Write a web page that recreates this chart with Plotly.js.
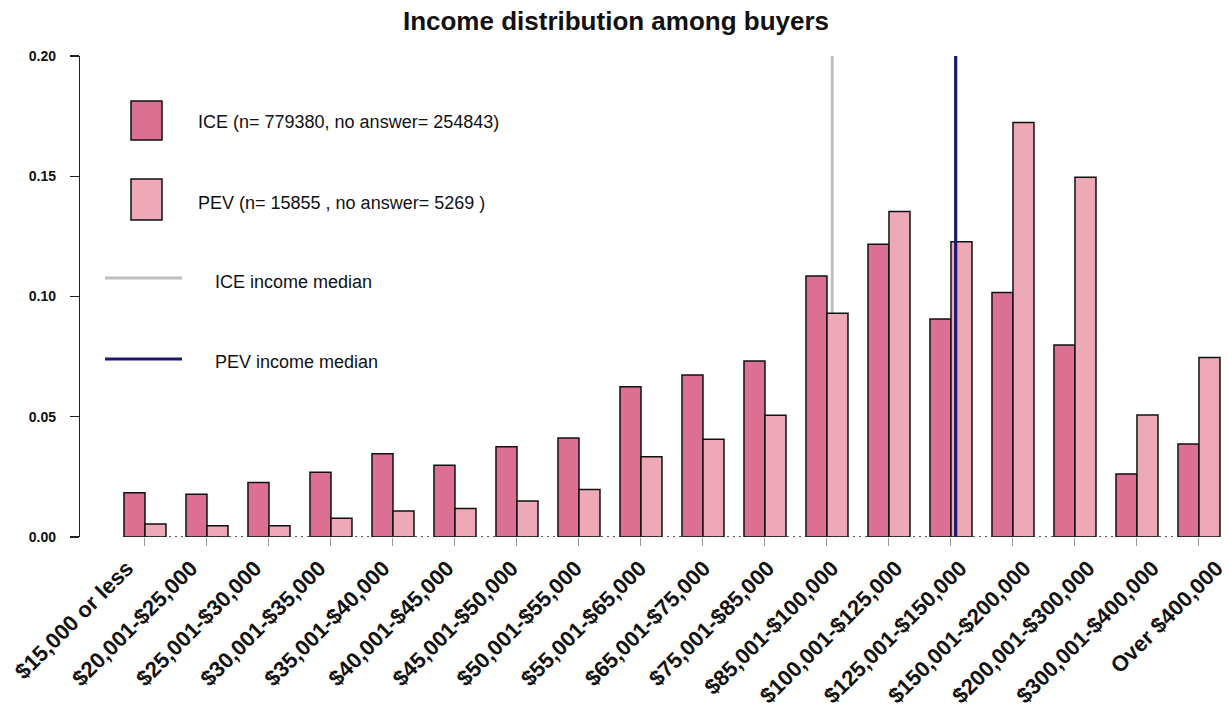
<!DOCTYPE html>
<html>
<head>
<meta charset="utf-8">
<script src="https://cdn.plot.ly/plotly-3.0.1.min.js"></script>
<style>
  html, body { margin: 0; padding: 0; background: #ffffff; }
  #chart { width: 1228px; height: 711px; }
</style>
</head>
<body>
<div id="chart"></div>
<script>
// ---- data ----
const categories = [
  "$15,000 or less", "$20,001-$25,000", "$25,001-$30,000", "$30,001-$35,000",
  "$35,001-$40,000", "$40,001-$45,000", "$45,001-$50,000", "$50,001-$55,000",
  "$55,001-$65,000", "$65,001-$75,000", "$75,001-$85,000", "$85,001-$100,000",
  "$100,001-$125,000", "$125,001-$150,000", "$150,001-$200,000", "$200,001-$300,000",
  "$300,001-$400,000", "Over $400,000"
];
const iceShare = [
  0.0184, 0.0178, 0.0227, 0.0269, 0.0346, 0.0298, 0.0375, 0.0412,
  0.0625, 0.0674, 0.0732, 0.1085, 0.1217, 0.0906, 0.1017, 0.0798,
  0.0262, 0.0387
];
const pevShare = [
  0.0054, 0.0047, 0.0047, 0.0078, 0.0108, 0.0119, 0.0150, 0.0198,
  0.0334, 0.0406, 0.0506, 0.0930, 0.1353, 0.1228, 0.1723, 0.1496,
  0.0507, 0.0746
];
// medians, as positions on the category scale (index of bracket + fraction)
const iceMedianPos = 11.085;
const pevMedianPos = 13.076;
const yTicks = [0, 0.05, 0.10, 0.15, 0.20];
const legendLabels = [
  "ICE (n= 779380, no answer= 254843)",
  "PEV (n= 15855 , no answer= 5269 )",
  "ICE income median",
  "PEV income median"
];
const titleText = "Income distribution among buyers";

// ---- style ----
const ICE_COLOR = "#DB7093";
const PEV_COLOR = "#EEA9B8";
const ICE_MED_COLOR = "#BEBEBE";
const PEV_MED_COLOR = "#191970";
const FONT = "Liberation Sans, Arial, Helvetica, sans-serif";

const W = 1228, H = 711;
const M = { l: 80, r: 0, t: 56, b: 174 };
const PW = W - M.l - M.r, PH = H - M.t - M.b;
const px = x => (x - M.l) / PW;          // pixel -> paper x
const py = y => (H - M.b - y) / PH;      // pixel -> paper y

const traces = [
  {
    type: "bar", name: legendLabels[0], x: categories, y: iceShare,
    marker: { color: ICE_COLOR, line: { color: "#111", width: 1.5 } },
    hoverinfo: "x+y"
  },
  {
    type: "bar", name: legendLabels[1], x: categories, y: pevShare,
    marker: { color: PEV_COLOR, line: { color: "#111", width: 1.5 } },
    hoverinfo: "x+y"
  },
  // carrier for the (slightly wider spaced) category label axis; draws nothing
  {
    type: "scatter", mode: "none", x: categories, y: iceShare,
    xaxis: "x2", yaxis: "y", hoverinfo: "skip", showlegend: false
  }
];

const shapes = [
  // dotted baseline between first and last group
  { type: "line", xref: "x", yref: "y", x0: 0, x1: categories.length - 1, y0: 0, y1: 0,
    line: { color: "#222", width: 1.5, dash: "2px,4px" }, layer: "above" },
  // medians
  { type: "line", xref: "x", yref: "y", x0: iceMedianPos, x1: iceMedianPos, y0: 0, y1: 0.2,
    line: { color: ICE_MED_COLOR, width: 3 }, layer: "below" },
  { type: "line", xref: "x", yref: "y", x0: pevMedianPos, x1: pevMedianPos, y0: 0, y1: 0.2,
    line: { color: PEV_MED_COLOR, width: 3.2 }, layer: "above" },
  // legend keys
  { type: "rect", xref: "paper", yref: "paper", x0: px(131), x1: px(162), y0: py(140), y1: py(101),
    fillcolor: ICE_COLOR, line: { color: "#111", width: 1.5 } },
  { type: "rect", xref: "paper", yref: "paper", x0: px(131), x1: px(162), y0: py(220), y1: py(179),
    fillcolor: PEV_COLOR, line: { color: "#111", width: 1.5 } },
  { type: "line", xref: "paper", yref: "paper", x0: px(105), x1: px(182), y0: py(278), y1: py(278),
    line: { color: ICE_MED_COLOR, width: 3 } },
  { type: "line", xref: "paper", yref: "paper", x0: px(105), x1: px(182), y0: py(359), y1: py(359),
    line: { color: PEV_MED_COLOR, width: 3 } }
];

const legText = (text, x, y) => ({
  text: text, xref: "paper", yref: "paper", x: px(x), y: py(y),
  xanchor: "left", yanchor: "middle", showarrow: false,
  font: { family: FONT, size: 18, color: "#111" }
});

const annotations = [
  legText(legendLabels[0], 196, 122),
  legText(legendLabels[1], 196, 203),
  legText(legendLabels[2], 213, 282),
  legText(legendLabels[3], 213, 362)
];

const layout = {
  width: W, height: H,
  margin: M,
  paper_bgcolor: "#ffffff", plot_bgcolor: "#ffffff",
  showlegend: false,
  barmode: "group", bargap: 0.3226, bargroupgap: 0,
  title: {
    text: titleText, xref: "container", yref: "container",
    x: 616 / W, xanchor: "center", y: 1 - 21 / H, yanchor: "middle",
    font: { family: FONT, size: 26, weight: "bold", color: "#111" }
  },
  xaxis: {
    type: "category",
    range: [-1.048, 17.468],
    showline: false, showgrid: false, zeroline: false,
    ticks: "outside", ticklen: 8, tickwidth: 1, tickcolor: "#999",
    showticklabels: false,
    fixedrange: true
  },
  xaxis2: {
    type: "category",
    overlaying: "x", anchor: "y", side: "bottom",
    range: [-0.733, 17.177],
    showline: false, showgrid: false, zeroline: false,
    ticks: "", tickangle: -45,
    ticklabelstandoff: 13,
    tickfont: { family: FONT, size: 22, weight: "bold", color: "#111" },
    fixedrange: true
  },
  yaxis: {
    range: [0, 0.2],
    tickvals: yTicks, tickformat: ".2f",
    showline: true, linecolor: "#222", linewidth: 1.2,
    showgrid: false, zeroline: false,
    ticks: "outside", ticklen: 9, tickwidth: 1.2, tickcolor: "#222",
    ticklabelstandoff: 11,
    tickfont: { family: FONT, size: 14, weight: "bold", color: "#111" },
    fixedrange: true
  },
  shapes: shapes,
  annotations: annotations
};

Plotly.newPlot("chart", traces, layout, { displayModeBar: false, staticPlot: true });
</script>
</body>
</html>
